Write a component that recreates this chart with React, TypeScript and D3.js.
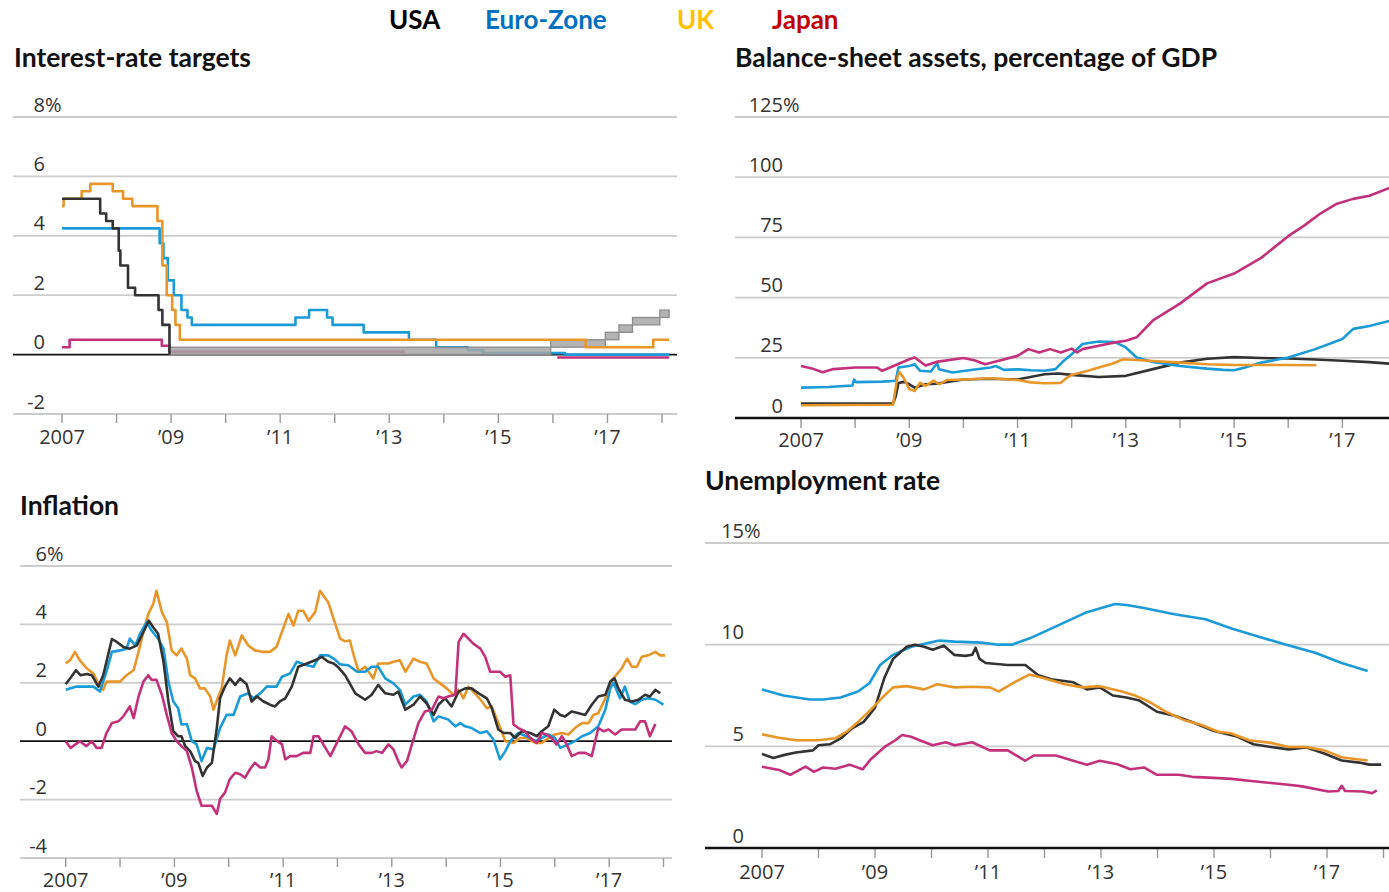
import React, { useEffect } from "react";
import * as d3 from "d3";

type Pt = [number, number];

// ---------------- Legend ----------------
const legendNames = ["USA", "Euro-Zone", "UK", "Japan"];
const legendColors = ["#000000", "#0070c0", "#ffc000", "#c00000"];

// ---------------- Axis labels ----------------
const tickYears = d3.range(2007, 2019);
const labelYears = [2007, 2009, 2011, 2013, 2015, 2017];
const labelTexts = ["2007", "\u201909", "\u201911", "\u201913", "\u201915", "\u201917"];

const rateTicks = [-2, 0, 2, 4, 6, 8];
const balanceTicks = [0, 25, 50, 75, 100, 125];
const inflationTicks = [-4, -2, 0, 2, 4, 6];
const unempTicks = [0, 5, 10, 15];

// ---------------- Interest-rate targets (step changes) ----------------
const usRateDates = [2007.0, 2007.7, 2007.81, 2007.93, 2008.04, 2008.07, 2008.21, 2008.34, 2008.77, 2008.84, 2008.97];
const usRateValues = [5.25, 4.75, 4.5, 4.25, 3.5, 3.0, 2.25, 2.0, 1.5, 1.0, 0.0];

const euroRateDates = [2007.0, 2008.79, 2008.86, 2008.94, 2009.05, 2009.19, 2009.3, 2009.38, 2011.28, 2011.53, 2011.86, 2011.96, 2012.53, 2013.36, 2013.86, 2014.44, 2014.72, 2016.22, 2018.13];
const euroRateValues = [4.25, 3.75, 3.25, 2.5, 2.0, 1.5, 1.25, 1.0, 1.25, 1.5, 1.25, 1.0, 0.75, 0.5, 0.25, 0.15, 0.05, 0.0, 0.0];

const ukRateDates = [2007.0, 2007.03, 2007.36, 2007.52, 2007.93, 2008.12, 2008.29, 2008.75, 2008.84, 2008.92, 2009.02, 2009.08, 2009.16, 2016.6, 2017.84, 2018.13];
const ukRateValues = [5.0, 5.25, 5.5, 5.75, 5.5, 5.25, 5.0, 4.5, 3.0, 2.0, 1.5, 1.0, 0.5, 0.25, 0.5, 0.5];

const japanRateDates = [2007.0, 2007.14, 2008.83, 2008.97, 2013.28];
const japanRateValues = [0.25, 0.5, 0.3, 0.1, 0.1];
const japanNegRateDates = [2016.08, 2018.13];
const japanNegRateValues = [-0.1, -0.1];

// US target range (band)
const usBandStarts = [2008.97, 2015.96, 2016.96, 2017.21, 2017.46, 2017.96];
const usBandEnds = [2015.96, 2016.96, 2017.21, 2017.46, 2017.96, 2018.13];
const usBandLow = [0, 0.25, 0.5, 0.75, 1.0, 1.25];
const usBandHigh = [0.25, 0.5, 0.75, 1.0, 1.25, 1.5];

// ---------------- Balance-sheet assets, % of GDP ----------------
const usBalance: Pt[] = [[2007.0, 6], [2008.7, 6], [2008.75, 9], [2008.8, 14.5], [2008.9, 15], [2009.0, 14], [2009.1, 12.6], [2009.3, 14], [2009.5, 14.2], [2010.0, 16], [2010.5, 16.3], [2011.0, 16], [2011.5, 18.2], [2011.75, 18.5], [2012.0, 17.9], [2012.5, 17], [2013.0, 17.5], [2013.5, 20.3], [2014.0, 23], [2014.5, 24.6], [2015.0, 25.3], [2015.5, 24.9], [2016.0, 24.7], [2016.5, 24.3], [2017.0, 23.8], [2017.5, 23.2], [2017.9, 22.5]];
const euroBalance: Pt[] = [[2007.0, 12.6], [2007.5, 12.9], [2007.95, 13.5], [2007.98, 16], [2008.02, 14.9], [2008.5, 15.1], [2008.75, 15.5], [2008.8, 21], [2009.0, 21.6], [2009.1, 22.3], [2009.2, 19.6], [2009.4, 19.3], [2009.48, 21.8], [2009.52, 22.5], [2009.55, 20.2], [2009.8, 18.9], [2010.0, 19.5], [2010.5, 21], [2010.6, 21.6], [2010.75, 20], [2011.0, 20.2], [2011.25, 19.8], [2011.5, 19.6], [2011.7, 20.3], [2011.85, 23.7], [2012.0, 26.5], [2012.2, 30.7], [2012.5, 31.8], [2012.8, 31.5], [2013.0, 29.3], [2013.2, 25.1], [2013.5, 23.3], [2014.0, 21.6], [2014.5, 20.5], [2014.8, 20], [2015.0, 19.8], [2015.2, 21], [2015.5, 23], [2016.0, 25.1], [2016.5, 28.6], [2017.0, 32.8], [2017.2, 37], [2017.5, 38.2], [2017.9, 40.5]];
const ukBalance: Pt[] = [[2007.0, 5.3], [2008.7, 5.5], [2008.78, 17], [2008.82, 19], [2008.9, 16.5], [2009.0, 12], [2009.1, 11.2], [2009.2, 14.7], [2009.3, 13.3], [2009.45, 15.5], [2009.55, 14], [2009.7, 15.8], [2010.0, 16], [2010.5, 16.5], [2011.0, 15.8], [2011.25, 14.8], [2011.5, 14.4], [2011.8, 14.6], [2011.9, 16.5], [2012.0, 17.9], [2012.3, 19.6], [2012.5, 21], [2012.75, 22.5], [2012.95, 24.4], [2013.5, 23.7], [2014.0, 23], [2014.5, 22.3], [2015.0, 22], [2016.0, 22], [2016.52, 21.9]];
const japanBalance: Pt[] = [[2007.0, 21.6], [2007.2, 20.6], [2007.4, 19], [2007.6, 20.3], [2008.0, 21], [2008.4, 21], [2008.5, 19.6], [2008.7, 21.5], [2009.0, 24.4], [2009.1, 25.1], [2009.2, 23.5], [2009.3, 21.8], [2009.5, 23.3], [2010.0, 24.9], [2010.2, 24], [2010.4, 22.3], [2010.6, 23.5], [2011.0, 25.8], [2011.2, 28.6], [2011.4, 27.2], [2011.6, 28.6], [2011.8, 27.2], [2012.0, 28.8], [2012.1, 27.2], [2012.2, 28.6], [2012.5, 30], [2012.8, 31.4], [2013.0, 32.1], [2013.2, 33.5], [2013.5, 40.5], [2014.0, 47.5], [2014.5, 55.9], [2015.0, 60], [2015.5, 66.5], [2016.0, 75.5], [2016.3, 80], [2016.6, 85], [2016.9, 89], [2017.2, 91], [2017.5, 92.3], [2017.9, 95.8]];

// ---------------- Inflation ----------------
const usInflation: Pt[] = [[2007.0, 1.95], [2007.08, 2.15], [2007.19, 2.43], [2007.27, 2.26], [2007.39, 2.3], [2007.48, 2.26], [2007.6, 1.87], [2007.69, 2.26], [2007.85, 3.5], [2007.94, 3.4], [2008.06, 3.23], [2008.18, 3.17], [2008.31, 3.28], [2008.43, 3.74], [2008.53, 4.13], [2008.61, 3.9], [2008.7, 3.68], [2008.8, 2.72], [2008.89, 1.36], [2008.98, 0.34], [2009.07, 0.17], [2009.13, 0.17], [2009.2, -0.17], [2009.29, -0.34], [2009.38, -0.68], [2009.44, -0.74], [2009.52, -1.19], [2009.6, -0.9], [2009.69, -0.74], [2009.78, 0.45], [2009.84, 1.47], [2009.93, 1.87], [2010.02, 2.15], [2010.12, 1.93], [2010.21, 2.15], [2010.33, 1.95], [2010.42, 1.36], [2010.52, 1.53], [2010.64, 1.36], [2010.76, 1.25], [2010.85, 1.19], [2010.94, 1.36], [2011.04, 1.47], [2011.16, 1.87], [2011.28, 2.55], [2011.44, 2.66], [2011.59, 2.77], [2011.71, 2.89], [2011.83, 2.72], [2011.93, 2.66], [2012.02, 2.52], [2012.14, 2.26], [2012.33, 1.64], [2012.51, 1.42], [2012.63, 1.59], [2012.75, 1.93], [2012.88, 1.64], [2013.03, 1.59], [2013.12, 1.7], [2013.25, 1.08], [2013.4, 1.25], [2013.52, 1.53], [2013.64, 1.3], [2013.77, 0.9], [2013.86, 1.25], [2013.98, 1.47], [2014.1, 1.19], [2014.23, 1.7], [2014.35, 1.81], [2014.47, 1.81], [2014.6, 1.64], [2014.75, 1.47], [2014.84, 1.13], [2014.96, 0.4], [2015.06, 0.28], [2015.18, 0.28], [2015.27, 0.11], [2015.39, 0.34], [2015.55, 0.28], [2015.67, 0.17], [2015.76, 0.34], [2015.88, 0.51], [2015.99, 1.08], [2016.1, 0.9], [2016.19, 0.85], [2016.31, 1.02], [2016.44, 0.96], [2016.56, 0.9], [2016.68, 1.25], [2016.8, 1.53], [2016.93, 1.59], [2017.02, 2.04], [2017.1, 2.15], [2017.17, 1.81], [2017.29, 1.42], [2017.42, 1.36], [2017.54, 1.42], [2017.66, 1.59], [2017.75, 1.53], [2017.85, 1.76], [2017.94, 1.64]];
const euroInflation: Pt[] = [[2007.0, 1.76], [2007.2, 1.87], [2007.51, 1.87], [2007.63, 1.7], [2007.75, 2.38], [2007.85, 3.06], [2008.0, 3.11], [2008.12, 3.17], [2008.18, 3.51], [2008.28, 3.28], [2008.37, 3.68], [2008.49, 4.08], [2008.58, 3.79], [2008.7, 3.51], [2008.8, 3.17], [2008.89, 2.04], [2008.98, 1.36], [2009.07, 1.13], [2009.13, 0.57], [2009.23, 0.59], [2009.32, 0.0], [2009.41, -0.11], [2009.5, -0.68], [2009.6, -0.23], [2009.72, -0.28], [2009.84, 0.45], [2009.96, 0.9], [2010.09, 0.9], [2010.21, 1.53], [2010.36, 1.64], [2010.45, 1.47], [2010.58, 1.64], [2010.7, 1.87], [2010.88, 1.87], [2010.98, 2.21], [2011.13, 2.32], [2011.25, 2.72], [2011.44, 2.6], [2011.56, 2.55], [2011.68, 2.94], [2011.83, 2.94], [2011.93, 2.83], [2012.05, 2.63], [2012.2, 2.6], [2012.36, 2.38], [2012.51, 2.38], [2012.63, 2.55], [2012.75, 2.55], [2012.88, 2.15], [2013.03, 1.98], [2013.15, 1.76], [2013.25, 1.25], [2013.4, 1.53], [2013.52, 1.59], [2013.64, 1.36], [2013.77, 0.68], [2013.86, 0.85], [2014.04, 0.74], [2014.17, 0.51], [2014.26, 0.62], [2014.35, 0.51], [2014.47, 0.45], [2014.63, 0.28], [2014.75, 0.34], [2014.87, 0.06], [2014.99, -0.62], [2015.09, -0.34], [2015.18, 0.0], [2015.33, 0.28], [2015.48, 0.17], [2015.64, 0.0], [2015.76, 0.11], [2015.88, 0.23], [2016.0, 0.11], [2016.1, -0.23], [2016.25, -0.11], [2016.37, 0.0], [2016.5, 0.17], [2016.65, 0.28], [2016.8, 0.51], [2016.93, 1.08], [2017.02, 1.8], [2017.08, 2.0], [2017.2, 1.47], [2017.29, 1.87], [2017.38, 1.36], [2017.48, 1.27], [2017.6, 1.42], [2017.72, 1.47], [2017.85, 1.42], [2018.0, 1.25]];
const ukInflation: Pt[] = [[2007.0, 2.66], [2007.08, 2.77], [2007.17, 3.06], [2007.26, 2.77], [2007.39, 2.49], [2007.51, 2.32], [2007.63, 1.87], [2007.69, 1.76], [2007.75, 2.04], [2007.88, 2.04], [2008.0, 2.04], [2008.12, 2.26], [2008.25, 2.43], [2008.34, 3.06], [2008.43, 3.74], [2008.52, 4.36], [2008.61, 4.7], [2008.67, 5.15], [2008.77, 4.42], [2008.86, 4.08], [2008.95, 3.11], [2009.04, 2.94], [2009.13, 3.17], [2009.23, 2.83], [2009.29, 2.26], [2009.38, 2.15], [2009.47, 1.81], [2009.56, 1.81], [2009.66, 1.53], [2009.72, 1.08], [2009.81, 1.53], [2009.87, 1.81], [2009.96, 2.94], [2010.02, 3.45], [2010.12, 2.94], [2010.24, 3.62], [2010.36, 3.28], [2010.48, 3.11], [2010.61, 3.06], [2010.76, 3.06], [2010.88, 3.23], [2011.0, 3.85], [2011.1, 4.36], [2011.19, 3.96], [2011.28, 4.47], [2011.37, 4.47], [2011.47, 4.13], [2011.59, 4.42], [2011.68, 5.15], [2011.83, 4.76], [2011.93, 4.19], [2012.05, 3.51], [2012.14, 3.42], [2012.23, 3.45], [2012.3, 2.94], [2012.39, 2.38], [2012.51, 2.55], [2012.66, 2.15], [2012.75, 2.66], [2012.94, 2.66], [2013.03, 2.72], [2013.15, 2.77], [2013.25, 2.38], [2013.4, 2.83], [2013.52, 2.72], [2013.64, 2.66], [2013.77, 2.15], [2013.89, 1.98], [2014.01, 1.81], [2014.13, 1.59], [2014.23, 1.76], [2014.32, 1.47], [2014.41, 1.87], [2014.53, 1.64], [2014.66, 1.36], [2014.75, 1.13], [2014.84, 1.19], [2014.96, 0.62], [2015.09, 0.0], [2015.24, -0.06], [2015.36, 0.11], [2015.48, 0.11], [2015.64, -0.06], [2015.76, -0.06], [2015.88, 0.11], [2016.0, 0.23], [2016.13, 0.28], [2016.25, 0.23], [2016.37, 0.45], [2016.5, 0.62], [2016.62, 0.62], [2016.71, 0.9], [2016.8, 0.96], [2016.93, 1.47], [2017.05, 2.1], [2017.14, 2.29], [2017.23, 2.49], [2017.33, 2.83], [2017.42, 2.55], [2017.51, 2.55], [2017.6, 2.89], [2017.72, 2.94], [2017.85, 3.06], [2017.94, 2.94], [2018.03, 2.94]];
const japanInflation: Pt[] = [[2007.0, 0.0], [2007.09, -0.23], [2007.26, 0.0], [2007.38, -0.17], [2007.48, 0.0], [2007.57, -0.23], [2007.66, -0.23], [2007.75, 0.28], [2007.85, 0.62], [2007.97, 0.68], [2008.06, 0.85], [2008.18, 1.19], [2008.25, 0.79], [2008.34, 1.53], [2008.43, 2.04], [2008.52, 2.26], [2008.58, 2.1], [2008.67, 2.1], [2008.77, 1.59], [2008.86, 0.9], [2008.95, 0.28], [2009.04, 0.0], [2009.13, -0.17], [2009.23, -0.34], [2009.32, -0.9], [2009.41, -1.7], [2009.5, -2.21], [2009.6, -2.21], [2009.69, -2.21], [2009.78, -2.49], [2009.84, -1.98], [2009.93, -1.76], [2010.02, -1.3], [2010.12, -1.08], [2010.21, -1.13], [2010.3, -1.25], [2010.39, -0.96], [2010.48, -0.74], [2010.58, -0.9], [2010.67, -0.9], [2010.73, -0.62], [2010.79, 0.17], [2010.88, 0.02], [2010.98, -0.11], [2011.04, -0.62], [2011.13, -0.51], [2011.25, -0.51], [2011.37, -0.4], [2011.5, -0.4], [2011.56, 0.17], [2011.65, 0.17], [2011.74, -0.11], [2011.87, -0.51], [2011.96, -0.17], [2012.05, 0.17], [2012.14, 0.51], [2012.26, 0.34], [2012.39, -0.11], [2012.51, -0.4], [2012.63, -0.4], [2012.72, -0.34], [2012.82, -0.4], [2012.94, -0.11], [2013.03, -0.28], [2013.12, -0.68], [2013.18, -0.9], [2013.28, -0.68], [2013.37, -0.11], [2013.49, 0.62], [2013.61, 1.02], [2013.74, 1.08], [2013.86, 1.53], [2013.95, 1.47], [2014.04, 1.53], [2014.17, 1.59], [2014.23, 3.4], [2014.32, 3.68], [2014.41, 3.51], [2014.5, 3.34], [2014.63, 3.17], [2014.72, 2.89], [2014.81, 2.38], [2014.9, 2.38], [2014.99, 2.38], [2015.09, 2.21], [2015.18, 2.26], [2015.24, 0.57], [2015.33, 0.45], [2015.45, 0.34], [2015.55, 0.11], [2015.67, -0.06], [2015.76, 0.28], [2015.85, 0.23], [2015.94, 0.11], [2016.03, -0.11], [2016.13, 0.17], [2016.22, -0.11], [2016.31, -0.51], [2016.44, -0.4], [2016.56, -0.4], [2016.68, -0.51], [2016.8, 0.45], [2016.9, 0.34], [2016.99, 0.4], [2017.11, 0.23], [2017.23, 0.4], [2017.36, 0.4], [2017.48, 0.4], [2017.57, 0.68], [2017.66, 0.68], [2017.75, 0.17], [2017.85, 0.59]];

// ---------------- Unemployment rate ----------------
const usUnemp: Pt[] = [[2007.0, 4.63], [2007.2, 4.43], [2007.4, 4.58], [2007.6, 4.7], [2007.9, 4.8], [2008.0, 5.05], [2008.2, 5.1], [2008.4, 5.4], [2008.6, 5.9], [2008.8, 6.2], [2009.0, 6.9], [2009.17, 8.4], [2009.32, 9.3], [2009.56, 9.9], [2009.71, 10.0], [2009.87, 9.9], [2010.02, 9.75], [2010.22, 9.95], [2010.4, 9.5], [2010.6, 9.45], [2010.72, 9.5], [2010.78, 9.85], [2010.85, 9.3], [2010.96, 9.1], [2011.35, 9.0], [2011.66, 9.0], [2011.89, 8.5], [2012.12, 8.3], [2012.51, 8.15], [2012.75, 7.8], [2012.98, 7.9], [2013.21, 7.5], [2013.45, 7.4], [2013.68, 7.25], [2013.99, 6.7], [2014.3, 6.5], [2014.61, 6.2], [2015.0, 5.75], [2015.39, 5.5], [2015.7, 5.1], [2016.01, 4.97], [2016.32, 4.85], [2016.63, 4.95], [2016.95, 4.65], [2017.26, 4.3], [2017.57, 4.2], [2017.75, 4.1], [2017.96, 4.1]];
const euroUnemp: Pt[] = [[2007.0, 7.8], [2007.38, 7.5], [2007.85, 7.3], [2008.08, 7.3], [2008.39, 7.4], [2008.7, 7.7], [2008.9, 8.1], [2009.09, 9.0], [2009.32, 9.5], [2009.64, 9.9], [2010.14, 10.2], [2010.41, 10.15], [2010.88, 10.1], [2011.19, 10.0], [2011.42, 10.0], [2011.73, 10.3], [2012.28, 11.0], [2012.75, 11.6], [2013.25, 12.0], [2013.45, 11.95], [2013.76, 11.8], [2014.3, 11.5], [2014.85, 11.25], [2015.31, 10.8], [2015.78, 10.4], [2016.28, 10.0], [2016.79, 9.6], [2017.26, 9.1], [2017.72, 8.7]];
const ukUnemp: Pt[] = [[2007.0, 5.59], [2007.3, 5.42], [2007.6, 5.3], [2008.0, 5.3], [2008.3, 5.4], [2008.5, 5.72], [2008.7, 6.2], [2008.9, 6.73], [2009.13, 7.4], [2009.32, 7.9], [2009.56, 7.96], [2009.87, 7.8], [2010.1, 8.05], [2010.41, 7.9], [2010.72, 7.93], [2011.03, 7.9], [2011.19, 7.7], [2011.5, 8.2], [2011.73, 8.53], [2011.96, 8.37], [2012.36, 8.05], [2012.67, 7.9], [2012.98, 7.96], [2013.37, 7.7], [2013.6, 7.5], [2013.85, 7.2], [2014.15, 6.7], [2014.46, 6.3], [2014.77, 6.06], [2015.08, 5.72], [2015.3, 5.64], [2015.62, 5.3], [2016.01, 5.17], [2016.32, 4.97], [2016.63, 4.97], [2016.95, 4.8], [2017.26, 4.46], [2017.49, 4.38], [2017.72, 4.3]];
const japanUnemp: Pt[] = [[2007.0, 4.0], [2007.3, 3.84], [2007.5, 3.6], [2007.77, 4.0], [2007.92, 3.74], [2008.08, 3.96], [2008.3, 3.9], [2008.55, 4.1], [2008.78, 3.87], [2008.93, 4.38], [2009.17, 4.97], [2009.36, 5.3], [2009.48, 5.56], [2009.64, 5.47], [2009.79, 5.3], [2010.02, 5.05], [2010.25, 5.2], [2010.41, 5.05], [2010.72, 5.2], [2011.03, 4.8], [2011.35, 4.8], [2011.66, 4.29], [2011.81, 4.55], [2012.2, 4.55], [2012.51, 4.29], [2012.75, 4.1], [2012.98, 4.29], [2013.29, 4.12], [2013.52, 3.87], [2013.76, 3.96], [2013.99, 3.6], [2014.38, 3.6], [2014.61, 3.5], [2015.0, 3.45], [2015.31, 3.4], [2015.7, 3.28], [2016.01, 3.2], [2016.32, 3.11], [2016.56, 3.03], [2017.02, 2.78], [2017.2, 2.8], [2017.26, 3.06], [2017.32, 2.8], [2017.64, 2.78], [2017.8, 2.7], [2017.88, 2.83]];

// ---------------- Styling ----------------
const C_US = "#333333";
const C_EU = "#1a9ad6";
const C_UK = "#e8962a";
const C_JP = "#c2317a";
const GRID = "#cccccc";
const TICK_FONT = "'Open Sans', 'Noto Sans', sans-serif";
const TITLE_FONT = "Lato, 'Noto Sans', sans-serif";
const TICK_SIZE = 20;
const LW = 2.6;

const zipPts = (a: number[], b: number[]): Pt[] => a.map((d, i) => [d, b[i]] as Pt);

interface PanelProps {
  title: string;
  titleX: number;
  titleY: number;
  x: d3.ScaleLinear<number, number>;
  y: d3.ScaleLinear<number, number>;
  gridX0: number;
  gridX1: number;
  ticks: number[];
  labelEndX: number;
  axisBlack: boolean;
  tickLen: number;
  xLabelDy: number;
  children?: React.ReactNode;
}

function Panel(p: PanelProps) {
  const ymin = d3.min(p.ticks) as number;
  const ymax = d3.max(p.ticks) as number;
  const axisY = p.y(ymin);
  return (
    <g>
      <text x={p.titleX} y={p.titleY} fontFamily={TITLE_FONT} fontWeight={700} fontSize={26.5} fill="#111">
        {p.title}
      </text>
      {p.ticks.map((v) => {
        const yy = p.y(v);
        const isZero = v === 0;
        const isAxis = v === ymin;
        if (isZero || (isAxis && p.axisBlack)) return null;
        return <line key={"g" + v} x1={p.gridX0} x2={p.gridX1} y1={yy} y2={yy} stroke={GRID} strokeWidth={1.8} />;
      })}
      {p.ticks.map((v) => (
        <g key={"l" + v}>
          <text x={p.labelEndX} y={p.y(v) - 5.5} textAnchor="end" fontFamily={TICK_FONT} fontSize={TICK_SIZE} fill="#333">
            {v < 0 ? "-" + Math.abs(v) : String(v)}
          </text>
          {v === ymax ? (
            <text x={p.labelEndX} y={p.y(v) - 5.5} textAnchor="start" fontFamily={TICK_FONT} fontSize={TICK_SIZE} fill="#333">
              %
            </text>
          ) : null}
        </g>
      ))}
      {tickYears.map((t) => (
        <line key={"t" + t} x1={p.x(t)} x2={p.x(t)} y1={axisY} y2={axisY + p.tickLen} stroke="#999" strokeWidth={1.4} />
      ))}
      {labelYears.map((t, i) => (
        <text key={"x" + t} x={p.x(t)} y={axisY + p.xLabelDy} textAnchor="middle" fontFamily={TICK_FONT} fontSize={TICK_SIZE} fill="#333">
          {labelTexts[i]}
        </text>
      ))}
      {p.children}
      {p.axisBlack ? (
        <line x1={p.gridX0} x2={p.gridX1} y1={axisY} y2={axisY} stroke="#111" strokeWidth={2.4} />
      ) : null}
    </g>
  );
}

export default function App() {
  useEffect(() => {
    document.body.style.margin = "0";
  }, []);

  // Panel 1 scales
  const x1 = d3.scaleLinear().domain([2007, 2018]).range([62, 662]);
  const y1 = d3.scaleLinear().domain([-2, 8]).range([414, 117]);
  // Panel 2
  const x2 = d3.scaleLinear().domain([2007, 2018]).range([801, 1396.5]);
  const y2 = d3.scaleLinear().domain([0, 125]).range([418, 117]);
  // Panel 3
  const x3 = d3.scaleLinear().domain([2007, 2018]).range([65.7, 663.5]);
  const y3 = d3.scaleLinear().domain([-4, 6]).range([858, 566]);
  // Panel 4
  const x4 = d3.scaleLinear().domain([2007, 2018]).range([762, 1383.5]);
  const y4 = d3.scaleLinear().domain([0, 15]).range([848, 543]);

  const stepLine = (x: d3.ScaleLinear<number, number>, y: d3.ScaleLinear<number, number>) =>
    d3.line<Pt>().x((d) => x(d[0])).y((d) => y(d[1])).curve(d3.curveStepAfter);
  const lin = (x: d3.ScaleLinear<number, number>, y: d3.ScaleLinear<number, number>) =>
    d3.line<Pt>().x((d) => x(d[0])).y((d) => y(d[1])).curve(d3.curveLinear);

  const s1 = stepLine(x1, y1);
  const l2 = lin(x2, y2);
  const l3 = lin(x3, y3);
  const l4 = lin(x4, y4);

  const path = (d: string | null, color: string, key: string) => (
    <path key={key} d={d || ""} fill="none" stroke={color} strokeWidth={LW} strokeLinejoin="round" strokeLinecap="butt" />
  );

  const legendX = [389, 485, 677, 772];

  return (
    <svg width={1389} height={892} style={{ position: "absolute", left: 0, top: 0, background: "#fff" }}>
      <rect x={0} y={0} width={1389} height={892} fill="#fff" />
      {legendNames.map((n, i) => (
        <text key={n} x={legendX[i]} y={29} fontFamily={TITLE_FONT} fontWeight={700} fontSize={26} fill={legendColors[i]}>
          {n}
        </text>
      ))}

      {/* Interest-rate targets */}
      <Panel title="Interest-rate targets" titleX={14} titleY={67} x={x1} y={y1} gridX0={13} gridX1={677}
        ticks={rateTicks} labelEndX={45} axisBlack={false} tickLen={9} xLabelDy={30}>
        <line x1={13} x2={677} y1={y1(0)} y2={y1(0)} stroke="#111" strokeWidth={1.8} />
        {path(s1(zipPts(japanRateDates, japanRateValues)), C_JP, "jp1")}
        {path(s1(zipPts(euroRateDates, euroRateValues)), C_EU, "eu1")}
        {usBandStarts.map((s, i) => (
          <rect key={"b" + i} x={x1(s)} y={y1(usBandHigh[i])} width={x1(usBandEnds[i]) - x1(s)}
            height={y1(usBandLow[i]) - y1(usBandHigh[i])} fill="#a6a6a6" fillOpacity={0.85} stroke="#8c8c8c" strokeWidth={1.3} />
        ))}
        {path(s1(zipPts(ukRateDates, ukRateValues)), C_UK, "uk1")}
        {path(s1(zipPts(usRateDates, usRateValues)), C_US, "us1")}
        {path(s1(zipPts(japanNegRateDates, japanNegRateValues)), C_JP, "jp1b")}
      </Panel>

      {/* Balance sheet */}
      <Panel title="Balance-sheet assets, percentage of GDP" titleX={735} titleY={67} x={x2} y={y2} gridX0={735} gridX1={1389}
        ticks={balanceTicks} labelEndX={783} axisBlack={true} tickLen={10} xLabelDy={29}>
        {path(l2(usBalance), C_US, "us2")}
        {path(l2(euroBalance), C_EU, "eu2")}
        {path(l2(ukBalance), C_UK, "uk2")}
        {path(l2(japanBalance), C_JP, "jp2")}
      </Panel>

      {/* Inflation */}
      <Panel title="Inflation" titleX={20} titleY={515} x={x3} y={y3} gridX0={20} gridX1={672}
        ticks={inflationTicks} labelEndX={47} axisBlack={false} tickLen={9} xLabelDy={29}>
        <line x1={20} x2={672} y1={y3(0)} y2={y3(0)} stroke="#111" strokeWidth={1.8} />
        {path(l3(ukInflation), C_UK, "uk3")}
        {path(l3(euroInflation), C_EU, "eu3")}
        {path(l3(usInflation), C_US, "us3")}
        {path(l3(japanInflation), C_JP, "jp3")}
      </Panel>

      {/* Unemployment */}
      <Panel title="Unemployment rate" titleX={705} titleY={490} x={x4} y={y4} gridX0={705} gridX1={1389}
        ticks={unempTicks} labelEndX={744} axisBlack={true} tickLen={10} xLabelDy={31}>
        {path(l4(japanUnemp), C_JP, "jp4")}
        {path(l4(euroUnemp), C_EU, "eu4")}
        {path(l4(usUnemp), C_US, "us4")}
        {path(l4(ukUnemp), C_UK, "uk4")}
      </Panel>
    </svg>
  );
}
